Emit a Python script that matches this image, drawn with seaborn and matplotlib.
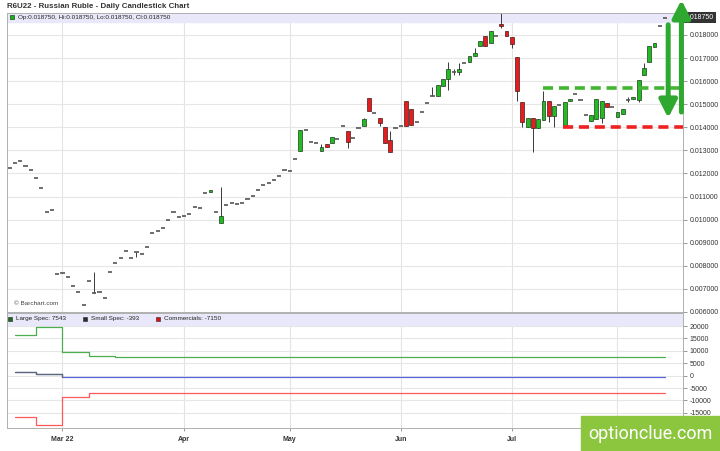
import numpy as np
import pandas as pd
import matplotlib
matplotlib.use("Agg")
import matplotlib.pyplot as plt
import matplotlib.transforms as mtransforms
from matplotlib.patches import Rectangle
import seaborn as sns

# ---- data ----
title = "R6U22 - Russian Ruble - Daily Candlestick Chart"
holidays = ["2022-02-21", "2022-04-15", "2022-05-30", "2022-06-20", "2022-07-04"]
dates = pd.bdate_range("2022-02-14", "2022-08-12", freq="C", holidays=holidays)

opens = [
    .01224, .01246, .01254, .01233, .01215, .01181, .01137, .01033, .01042, .00765,
    .00769, .00752, .00713, .00687, .00630, .00734, .00682, .00687, .00661, .00773,
    .00812, .00834, .00864, .00834, .00860, .00851, .00882, .00942, .00951, .00964,
    .00999, .01033, .01012, .01016, .01025, .01055, .01051, .01116, .01120, .01033,
    .00986, .01064, .01072, .01068, .01072, .01090, .01103, .01129, .01150, .01159,
    .01172, .01189, .01215, .01211, .01263, .01298, .01388, .01336, .01332, .01298,
    .01328, .01331, .01349, .01407, .01384, .01352, .01396, .01406, .01526, .01464,
    .01439, .01400, .01345, .01396, .01407, .01516, .01479, .01423, .01466, .01505,
    .01536, .01536, .01580, .01608, .01638, .01641, .01680, .01684, .01710, .01754,
    .01796, .01767, .01796, .01846, .01817, .01793, .01703, .01511, .01403, .01439,
    .01396, .01432, .01515, .01449, .01497, .01406, .01514, .01543, .01518, .01453,
    .01429, .01435, .01440, .01504, .01487, .01446, .01458, .01518, .01523, .01518,
    .01627, .01684, .01749, .01839, .01875,
]
highs = [
    .01224, .01246, .01254, .01233, .01215, .01181, .01137, .01033, .01042, .00765,
    .00769, .00752, .00713, .00687, .00630, .00734, .00773, .00687, .00661, .00773,
    .00812, .00834, .00864, .00834, .00860, .00851, .00882, .00942, .00951, .00964,
    .00999, .01033, .01012, .01016, .01025, .01055, .01051, .01116, .01129, .01033,
    .01142, .01064, .01072, .01068, .01072, .01090, .01103, .01129, .01150, .01159,
    .01172, .01189, .01215, .01211, .01263, .01388, .01388, .01336, .01332, .01328,
    .01328, .01359, .01349, .01407, .01384, .01352, .01396, .01442, .01526, .01464,
    .01439, .01400, .01386, .01396, .01407, .01516, .01479, .01423, .01466, .01505,
    .01576, .01583, .01608, .01684, .01651, .01680, .01680, .01710, .01742, .01775,
    .01796, .01817, .01796, .01894, .01817, .01793, .01703, .01511, .01439, .01439,
    .01435, .01559, .01515, .01492, .01497, .01511, .01523, .01543, .01518, .01453,
    .01453, .01523, .01514, .01504, .01487, .01468, .01479, .01533, .01533, .01605,
    .01677, .01750, .01767, .01839, .01875,
]
lows = [
    .01224, .01246, .01254, .01233, .01215, .01181, .01137, .01033, .01042, .00765,
    .00769, .00752, .00713, .00687, .00630, .00734, .00682, .00687, .00661, .00773,
    .00812, .00834, .00864, .00834, .00840, .00851, .00882, .00942, .00951, .00964,
    .00999, .01033, .01012, .01016, .01025, .01055, .01051, .01116, .01120, .01033,
    .00986, .01064, .01072, .01068, .01072, .01090, .01103, .01129, .01150, .01159,
    .01172, .01189, .01215, .01211, .01263, .01298, .01388, .01336, .01332, .01298,
    .01314, .01331, .01349, .01407, .01309, .01352, .01396, .01406, .01471, .01464,
    .01406, .01334, .01295, .01396, .01407, .01405, .01412, .01423, .01466, .01505,
    .01536, .01536, .01580, .01562, .01627, .01627, .01680, .01684, .01710, .01754,
    .01754, .01767, .01796, .01829, .01796, .01745, .01515, .01403, .01403, .01295,
    .01396, .01432, .01424, .01403, .01497, .01406, .01514, .01543, .01518, .01453,
    .01429, .01435, .01417, .01487, .01487, .01446, .01458, .01511, .01523, .01511,
    .01627, .01684, .01749, .01839, .01875,
]
closes = [
    .01224, .01246, .01254, .01233, .01215, .01181, .01137, .01033, .01042, .00765,
    .00769, .00752, .00713, .00687, .00630, .00734, .00682, .00687, .00661, .00773,
    .00812, .00834, .00864, .00834, .00860, .00851, .00882, .00942, .00951, .00964,
    .00999, .01033, .01012, .01016, .01025, .01055, .01051, .01116, .01129, .01033,
    .01016, .01064, .01072, .01068, .01072, .01090, .01103, .01129, .01150, .01159,
    .01172, .01189, .01215, .01211, .01263, .01388, .01388, .01336, .01332, .01316,
    .01314, .01359, .01349, .01407, .01338, .01352, .01396, .01435, .01471, .01464,
    .01420, .01334, .01295, .01396, .01407, .01405, .01412, .01423, .01466, .01505,
    .01536, .01583, .01608, .01651, .01638, .01653, .01680, .01710, .01721, .01775,
    .01754, .01817, .01796, .01840, .01796, .01760, .01557, .01424, .01439, .01396,
    .01435, .01515, .01449, .01492, .01497, .01511, .01523, .01543, .01518, .01453,
    .01453, .01523, .01514, .01487, .01487, .01468, .01479, .01518, .01533, .01605,
    .01656, .01750, .01767, .01839, .01875,
]

# weekly COT positions (last row only carries the line to the last session)
cot_dates = ["2022-02-15", "2022-02-22", "2022-03-01", "2022-03-08", "2022-03-15", "2022-08-12"]
large_spec = [16500, 19500, 9600, 7800, 7543, 7543]
small_spec = [1370, 690, -393, -393, -393, -393]
commercials = [-16800, -19800, -8700, -7150, -7150, -7150]

# the Aug label sits under the watermark in the reference
month_labels = ["Mar 22", "Apr", "May", "Jun", "Jul", ""]
price_ticks = [0.006, 0.007, 0.008, 0.009, 0.010, 0.011, 0.012,
               0.013, 0.014, 0.015, 0.016, 0.017, 0.018]
cot_ticks = [-15000, -10000, -5000, 0, 5000, 10000, 15000, 20000]

# hand-drawn annotation levels
resistance_level, resistance_start = 0.01571, "2022-07-12"
support_level, support_start = 0.01402, "2022-07-18"
down_arrow = (0.01844, 0.01440)
up_arrow = (0.01466, 0.01952)

# ---- style ----
sns.set_theme(style="whitegrid")
plt.rcParams["font.family"] = ["Liberation Sans", "DejaVu Sans"]

W, H = 720, 451
fig = plt.figure(figsize=(W / 100, H / 100), dpi=100)
ax = fig.add_axes([7 / W, 139 / H, 676 / W, 299 / H])
ax2 = fig.add_axes([7 / W, 23 / H, 676 / W, 115 / H])

o, h, l, c = map(np.array, (opens, highs, lows, closes))
x = np.arange(len(dates))
up = c > o + 1e-9
down = c < o - 1e-9
flat = ~(up | down)

month_idx = [i for i in range(1, len(dates)) if dates[i].month != dates[i - 1].month]

for a in (ax, ax2):
    a.set_facecolor("white")
    a.grid(False)
    for i in month_idx:
        a.axvline(i, color="#e3e3e3", lw=0.8, zorder=0)
    a.set_xlim(-0.5, 127.4)
    a.yaxis.tick_right()
    a.tick_params(axis="y", right=True, left=False, length=3, width=0.6,
                  color="#888888", pad=1.5, labelsize=5, labelcolor="#333333")
    for s in a.spines.values():
        s.set_color("#b0b0b0")
        s.set_linewidth(0.7)

# main panel: candles
for p in price_ticks:
    ax.axhline(p, color="#e6e6e6", lw=0.8, zorder=0)
has_wick = h > l
ax.vlines(x[has_wick], l[has_wick], h[has_wick], color="#3a3a3a", lw=0.7, zorder=2)
ax.bar(x[up], (c - o)[up], bottom=o[up], width=0.72, color="#22bb22",
       edgecolor="#1d3d1d", linewidth=0.5, zorder=3)
ax.bar(x[down], (o - c)[down], bottom=c[down], width=0.72, color="#e81c1c",
       edgecolor="#3d1d1d", linewidth=0.5, zorder=3)
ax.hlines(c[flat], x[flat] - 0.4, x[flat] + 0.4, color="#555555", lw=1.2, zorder=3)

ax.set_ylim(0.006, 0.01895)
ax.set_yticks(price_ticks)
ax.set_yticklabels([f"{p:.6f}" for p in price_ticks])
ax.set_xticks(month_idx)
ax.tick_params(axis="x", bottom=False, labelbottom=False)

# legend band
ax.add_patch(Rectangle((0, 0.97), 1, 0.03, transform=ax.transAxes,
                       color="#e8e8fa", zorder=1))
ax.plot([5 / 676], [0.985], marker="s", ms=3.3, color="#22aa22", mec="#115511",
        mew=0.5, transform=ax.transAxes, zorder=5)
ax.text(11 / 676, 0.985,
        f"Op:{opens[-1]:.6f}, Hi:{highs[-1]:.6f}, Lo:{lows[-1]:.6f}, Cl:{closes[-1]:.6f}",
        transform=ax.transAxes, fontsize=4.6, va="center", color="#222222", zorder=5)
ax.text(7 / 676, 0.03, "© Barchart.com", transform=ax.transAxes, fontsize=4.6,
        va="center", color="#444444")

# current price box
trans = mtransforms.blended_transform_factory(ax.transAxes, ax.transData)
ax.text(1.003, closes[-1], f"{closes[-1]:.6f}", transform=trans, fontsize=5,
        color="white", va="center", ha="left",
        bbox=dict(boxstyle="square,pad=0.25", fc="#333333", ec="none"))

# annotations
r0 = dates.get_loc(pd.Timestamp(resistance_start))
s0 = dates.get_loc(pd.Timestamp(support_start))
ax.plot([r0, 127.4], [resistance_level] * 2, color="#44b533", lw=2.6,
        dashes=(2.8, 1.6), zorder=4)
ax.plot([s0 - 0.3, 127.4], [support_level] * 2, color="#ee2222", lw=2.6,
        dashes=(2.8, 1.6), zorder=4)
last = len(dates) - 1
for xa, (y0, y1) in ((last + 0.6, down_arrow), (last + 3.1, up_arrow)):
    ax.annotate("", xy=(xa, y1), xytext=(xa, y0), annotation_clip=False,
                arrowprops=dict(arrowstyle="-|>,head_length=0.75,head_width=0.38",
                                color="#2fa82f", lw=3.6, mutation_scale=14,
                                shrinkA=0, shrinkB=0), zorder=6)

# COT panel
cot_x = dates.get_indexer(pd.to_datetime(cot_dates))
cot = pd.DataFrame({
    "x": np.tile(cot_x, 3),
    "value": large_spec + small_spec + commercials,
    "series": ["Large Spec"] * 6 + ["Small Spec"] * 6 + ["Commercials"] * 6,
})
for t in cot_ticks:
    ax2.axhline(t, color="#e6e6e6", lw=0.8, zorder=0)
sns.lineplot(data=cot, x="x", y="value", hue="series", estimator=None,
             palette={"Large Spec": "#4cae4c", "Small Spec": "#5566dd",
                      "Commercials": "#ff5a5a"},
             drawstyle="steps-post", lw=0.9, legend=False, ax=ax2)
ax2.plot(cot_x[:3], small_spec[:3], drawstyle="steps-post", color="#5d6672", lw=0.9)
ax2.set_ylim(-21090, 25280)
ax2.set_yticks(cot_ticks)
ax2.set_yticklabels([str(t) for t in cot_ticks])
ax2.set_xticks(month_idx)
ax2.set_xticklabels(month_labels)
ax2.tick_params(axis="x", bottom=True, length=2, width=0.6, color="#888888",
                labelsize=5, labelcolor="#333333", pad=4)
for lab in ax2.get_xticklabels():
    lab.set_fontweight("bold")
ax2.set_xlabel("")
ax2.set_ylabel("")

ax2.add_patch(Rectangle((0, 0.896), 1, 0.104, transform=ax2.transAxes,
                        color="#e8e8fa", zorder=1))
legend_items = [(f"Large Spec: {large_spec[-1]}", "#1c6b1c", 3),
                (f"Small Spec: {small_spec[-1]}", "#2d2d2d", 78),
                (f"Commercials: {commercials[-1]}", "#dd1111", 151)]
for label, col, px in legend_items:
    ax2.plot([px / 676], [0.948], marker="s", ms=3.3, color=col, mec="#222222",
             mew=0.4, transform=ax2.transAxes, zorder=5)
    ax2.text((px + 6) / 676, 0.948, label, transform=ax2.transAxes, fontsize=4.6,
             va="center", color="#222222", zorder=5)

fig.text(7 / W, 1 - 6 / H, title, fontsize=5.7, fontweight="bold",
         color="#333333", va="center")

# watermark
fig.patches.append(Rectangle((581 / W, 0), 139 / W, 35 / H, transform=fig.transFigure,
                             color="#8cc63f", zorder=10))
fig.text(650 / W, 17 / H, "optionclue.com", fontsize=13, color="white",
         ha="center", va="center", family=["Roboto", "DejaVu Sans"], zorder=11)

fig.savefig("out.png", dpi=100)
